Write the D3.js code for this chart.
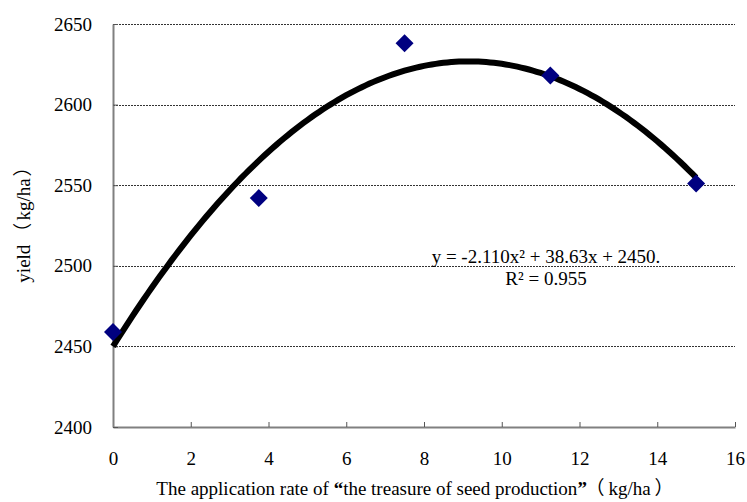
<!DOCTYPE html>
<html>
<head>
<meta charset="utf-8">
<script src="https://cdn.jsdelivr.net/npm/d3@7"></script>
<style>
  body { margin: 0; background: #fff; }
</style>
</head>
<body>
<script>
// observed points
let rates = [0, 3.75, 7.5, 11.25, 15];
let yields = [2459, 2542, 2638, 2618, 2551];

// trendline coefficients shown on the chart (a*x^2 + b*x + c)
let coef = [-2.110, 38.63, 2450];

let xTicks = [0, 2, 4, 6, 8, 10, 12, 14, 16];
let yTicks = [2400, 2450, 2500, 2550, 2600, 2650];

let width = 747;
let height = 502;
let plotLeft = 113, plotRight = 735, plotTop = 24, plotBottom = 427;
let serif = "'Liberation Serif', 'Times New Roman', serif";
let cjk = "'Noto Sans CJK SC'";

let svg = d3.select("body")
  .append("svg")
  .attr("width", width)
  .attr("height", height)
  .attr("font-family", serif);

let xScale = d3.scaleLinear()
  .domain([0, 16])
  .range([plotLeft, plotRight]);

let yScale = d3.scaleLinear()
  .domain([2400, 2650])
  .range([plotBottom, plotTop]);

// gridlines
svg.append("g")
  .selectAll("line")
  .data(yTicks.filter(d => d > 2400))
  .join("line")
  .attr("x1", plotLeft)
  .attr("x2", plotRight)
  .attr("y1", d => Math.round(yScale(d)) + 0.5)
  .attr("y2", d => Math.round(yScale(d)) + 0.5)
  .attr("stroke", "#333")
  .attr("stroke-width", 1)
  .attr("stroke-dasharray", "2,1");

// axes
let xAxis = d3.axisBottom(xScale)
  .tickValues(xTicks)
  .tickFormat(d3.format("d"))
  .tickSizeInner(-5)
  .tickSizeOuter(0)
  .tickPadding(25);

let gx = svg.append("g")
  .attr("transform", "translate(0," + plotBottom + ")")
  .call(xAxis);

let yAxis = d3.axisLeft(yScale)
  .tickValues(yTicks)
  .tickFormat(d3.format("d"))
  .tickSizeInner(-5)
  .tickSizeOuter(0)
  .tickPadding(21);

let gy = svg.append("g")
  .attr("transform", "translate(" + plotLeft + ",0)")
  .call(yAxis);

[gx, gy].forEach(g => {
  g.attr("font-family", serif).attr("font-size", 19);
  g.select(".domain").attr("stroke", "#808080").attr("stroke-width", 2);
  g.selectAll(".tick line").attr("stroke", "#555").attr("stroke-width", 1);
  g.selectAll(".tick text").attr("fill", "#000").attr("font-family", serif);
});

// trendline
let curveX = d3.range(0, 15.001, 0.1);
let line = d3.line()
  .x(d => xScale(d))
  .y(d => yScale(coef[0] * d * d + coef[1] * d + coef[2]))
  .curve(d3.curveBasis);

svg.append("path")
  .datum(curveX)
  .attr("d", line)
  .attr("fill", "none")
  .attr("stroke", "#000")
  .attr("stroke-width", 6);

// points
let diamond = d3.symbol().type(d3.symbolSquare).size(162);
svg.append("g")
  .selectAll("path")
  .data(rates)
  .join("path")
  .attr("d", diamond)
  .attr("transform", (d, i) => "translate(" + xScale(d) + "," + yScale(yields[i]) + ") rotate(45)")
  .attr("fill", "#000080");

// equation
svg.append("text")
  .attr("x", 546)
  .attr("y", 263)
  .attr("text-anchor", "middle")
  .attr("font-size", 19)
  .text("y = -2.110x\u00B2 + 38.63x + 2450.");

svg.append("text")
  .attr("x", 546)
  .attr("y", 285)
  .attr("text-anchor", "middle")
  .attr("font-size", 19)
  .text("R\u00B2 = 0.955");

// axis titles
let xt = svg.append("text")
  .attr("x", 415)
  .attr("y", 495)
  .attr("text-anchor", "middle")
  .attr("font-size", 19);
xt.append("tspan").text("The application rate of ");
xt.append("tspan").attr("font-weight", "bold").text("\u201C");
xt.append("tspan").text("the treasure of seed production");
xt.append("tspan").attr("font-weight", "bold").text("\u201D");
xt.append("tspan").attr("font-family", cjk).attr("dx", 8).text("（");
xt.append("tspan").attr("dx", 4).text("kg/ha");
xt.append("tspan").attr("font-family", cjk).attr("dx", 4).text("）");

let yt = svg.append("text")
  .attr("transform", "translate(30,220) rotate(-90)")
  .attr("text-anchor", "middle")
  .attr("font-size", 19);
yt.append("tspan").text("yield");
yt.append("tspan").attr("font-family", cjk).attr("dx", 3).text("（");
yt.append("tspan").attr("dx", 2).text("kg/ha");
yt.append("tspan").attr("font-family", cjk).attr("dx", 2).text("）");
</script>
</body>
</html>
